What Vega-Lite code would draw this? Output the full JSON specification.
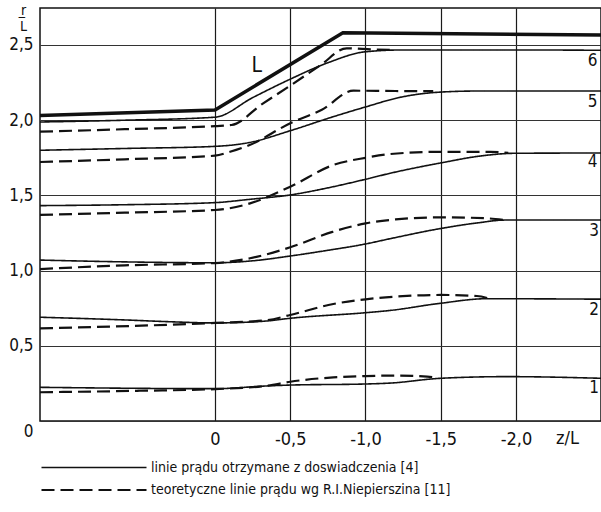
{
  "$schema": "https://vega.github.io/schema/vega-lite/v6.json",
  "width": 561,
  "height": 413,
  "autosize": "none",
  "padding": {"left": 40, "top": 8, "right": 0, "bottom": 91},
  "background": "white",
  "datasets": {
    "lines": [
      {"line": "s6", "kind": "linie prądu otrzymane z doswiadczenia [4]", "z": 1.163, "r": 1.988},
      {"line": "s6", "kind": "linie prądu otrzymane z doswiadczenia [4]", "z": 0.6, "r": 2.0},
      {"line": "s6", "kind": "linie prądu otrzymane z doswiadczenia [4]", "z": 0, "r": 2.02},
      {"line": "s6", "kind": "linie prądu otrzymane z doswiadczenia [4]", "z": -0.25, "r": 2.15},
      {"line": "s6", "kind": "linie prądu otrzymane z doswiadczenia [4]", "z": -0.5, "r": 2.273},
      {"line": "s6", "kind": "linie prądu otrzymane z doswiadczenia [4]", "z": -0.75, "r": 2.382},
      {"line": "s6", "kind": "linie prądu otrzymane z doswiadczenia [4]", "z": -1.0, "r": 2.455},
      {"line": "s6", "kind": "linie prądu otrzymane z doswiadczenia [4]", "z": -1.25, "r": 2.467},
      {"line": "s6", "kind": "linie prądu otrzymane z doswiadczenia [4]", "z": -2.0, "r": 2.467},
      {"line": "s6", "kind": "linie prądu otrzymane z doswiadczenia [4]", "z": -2.565, "r": 2.465},
      {"line": "d6", "kind": "teoretyczne linie prądu wg R.I.Niepierszina [11]", "z": 1.163, "r": 1.924},
      {"line": "d6", "kind": "teoretyczne linie prądu wg R.I.Niepierszina [11]", "z": 0.6, "r": 1.94},
      {"line": "d6", "kind": "teoretyczne linie prądu wg R.I.Niepierszina [11]", "z": 0, "r": 1.961},
      {"line": "d6", "kind": "teoretyczne linie prądu wg R.I.Niepierszina [11]", "z": -0.11, "r": 1.968},
      {"line": "d6", "kind": "teoretyczne linie prądu wg R.I.Niepierszina [11]", "z": -0.31, "r": 2.105},
      {"line": "d6", "kind": "teoretyczne linie prądu wg R.I.Niepierszina [11]", "z": -0.5, "r": 2.23},
      {"line": "d6", "kind": "teoretyczne linie prądu wg R.I.Niepierszina [11]", "z": -0.7, "r": 2.365},
      {"line": "d6", "kind": "teoretyczne linie prądu wg R.I.Niepierszina [11]", "z": -0.875, "r": 2.478},
      {"line": "d6", "kind": "teoretyczne linie prądu wg R.I.Niepierszina [11]", "z": -1.05, "r": 2.47},
      {"line": "d6", "kind": "teoretyczne linie prądu wg R.I.Niepierszina [11]", "z": -1.2, "r": 2.467},
      {"line": "s5", "kind": "linie prądu otrzymane z doswiadczenia [4]", "z": 1.163, "r": 1.8},
      {"line": "s5", "kind": "linie prądu otrzymane z doswiadczenia [4]", "z": 0.6, "r": 1.812},
      {"line": "s5", "kind": "linie prądu otrzymane z doswiadczenia [4]", "z": 0, "r": 1.826},
      {"line": "s5", "kind": "linie prądu otrzymane z doswiadczenia [4]", "z": -0.23, "r": 1.852},
      {"line": "s5", "kind": "linie prądu otrzymane z doswiadczenia [4]", "z": -0.5, "r": 1.93},
      {"line": "s5", "kind": "linie prądu otrzymane z doswiadczenia [4]", "z": -0.785, "r": 2.023},
      {"line": "s5", "kind": "linie prądu otrzymane z doswiadczenia [4]", "z": -1.0, "r": 2.088},
      {"line": "s5", "kind": "linie prądu otrzymane z doswiadczenia [4]", "z": -1.23, "r": 2.152},
      {"line": "s5", "kind": "linie prądu otrzymane z doswiadczenia [4]", "z": -1.5, "r": 2.187},
      {"line": "s5", "kind": "linie prądu otrzymane z doswiadczenia [4]", "z": -1.75, "r": 2.194},
      {"line": "s5", "kind": "linie prądu otrzymane z doswiadczenia [4]", "z": -2.565, "r": 2.194},
      {"line": "d5", "kind": "teoretyczne linie prądu wg R.I.Niepierszina [11]", "z": 1.163, "r": 1.722},
      {"line": "d5", "kind": "teoretyczne linie prądu wg R.I.Niepierszina [11]", "z": 0.6, "r": 1.74},
      {"line": "d5", "kind": "teoretyczne linie prądu wg R.I.Niepierszina [11]", "z": 0, "r": 1.764},
      {"line": "d5", "kind": "teoretyczne linie prądu wg R.I.Niepierszina [11]", "z": -0.1, "r": 1.79},
      {"line": "d5", "kind": "teoretyczne linie prądu wg R.I.Niepierszina [11]", "z": -0.23, "r": 1.835},
      {"line": "d5", "kind": "teoretyczne linie prądu wg R.I.Niepierszina [11]", "z": -0.5, "r": 1.98},
      {"line": "d5", "kind": "teoretyczne linie prądu wg R.I.Niepierszina [11]", "z": -0.71, "r": 2.07},
      {"line": "d5", "kind": "teoretyczne linie prądu wg R.I.Niepierszina [11]", "z": -0.92, "r": 2.196},
      {"line": "d5", "kind": "teoretyczne linie prądu wg R.I.Niepierszina [11]", "z": -1.2, "r": 2.194},
      {"line": "d5", "kind": "teoretyczne linie prądu wg R.I.Niepierszina [11]", "z": -1.45, "r": 2.193},
      {"line": "s4", "kind": "linie prądu otrzymane z doswiadczenia [4]", "z": 1.163, "r": 1.432},
      {"line": "s4", "kind": "linie prądu otrzymane z doswiadczenia [4]", "z": 0.6, "r": 1.438},
      {"line": "s4", "kind": "linie prądu otrzymane z doswiadczenia [4]", "z": 0, "r": 1.452},
      {"line": "s4", "kind": "linie prądu otrzymane z doswiadczenia [4]", "z": -0.233, "r": 1.474},
      {"line": "s4", "kind": "linie prądu otrzymane z doswiadczenia [4]", "z": -0.5, "r": 1.503},
      {"line": "s4", "kind": "linie prądu otrzymane z doswiadczenia [4]", "z": -0.75, "r": 1.55},
      {"line": "s4", "kind": "linie prądu otrzymane z doswiadczenia [4]", "z": -1.0, "r": 1.607},
      {"line": "s4", "kind": "linie prądu otrzymane z doswiadczenia [4]", "z": -1.163, "r": 1.647},
      {"line": "s4", "kind": "linie prądu otrzymane z doswiadczenia [4]", "z": -1.506, "r": 1.717},
      {"line": "s4", "kind": "linie prądu otrzymane z doswiadczenia [4]", "z": -1.75, "r": 1.76},
      {"line": "s4", "kind": "linie prądu otrzymane z doswiadczenia [4]", "z": -1.993, "r": 1.78},
      {"line": "s4", "kind": "linie prądu otrzymane z doswiadczenia [4]", "z": -2.565, "r": 1.782},
      {"line": "d4", "kind": "teoretyczne linie prądu wg R.I.Niepierszina [11]", "z": 1.163, "r": 1.37},
      {"line": "d4", "kind": "teoretyczne linie prądu wg R.I.Niepierszina [11]", "z": 0.6, "r": 1.385},
      {"line": "d4", "kind": "teoretyczne linie prądu wg R.I.Niepierszina [11]", "z": 0, "r": 1.403},
      {"line": "d4", "kind": "teoretyczne linie prądu wg R.I.Niepierszina [11]", "z": -0.233, "r": 1.447},
      {"line": "d4", "kind": "teoretyczne linie prądu wg R.I.Niepierszina [11]", "z": -0.5, "r": 1.558},
      {"line": "d4", "kind": "teoretyczne linie prądu wg R.I.Niepierszina [11]", "z": -0.786, "r": 1.702},
      {"line": "d4", "kind": "teoretyczne linie prądu wg R.I.Niepierszina [11]", "z": -1.0, "r": 1.75},
      {"line": "d4", "kind": "teoretyczne linie prądu wg R.I.Niepierszina [11]", "z": -1.163, "r": 1.775},
      {"line": "d4", "kind": "teoretyczne linie prądu wg R.I.Niepierszina [11]", "z": -1.5, "r": 1.79},
      {"line": "d4", "kind": "teoretyczne linie prądu wg R.I.Niepierszina [11]", "z": -1.83, "r": 1.79},
      {"line": "d4", "kind": "teoretyczne linie prądu wg R.I.Niepierszina [11]", "z": -1.95, "r": 1.782},
      {"line": "s3", "kind": "linie prądu otrzymane z doswiadczenia [4]", "z": 1.163, "r": 1.07},
      {"line": "s3", "kind": "linie prądu otrzymane z doswiadczenia [4]", "z": 0.6, "r": 1.058},
      {"line": "s3", "kind": "linie prądu otrzymane z doswiadczenia [4]", "z": 0, "r": 1.052},
      {"line": "s3", "kind": "linie prądu otrzymane z doswiadczenia [4]", "z": -0.25, "r": 1.065},
      {"line": "s3", "kind": "linie prądu otrzymane z doswiadczenia [4]", "z": -0.5, "r": 1.097},
      {"line": "s3", "kind": "linie prądu otrzymane z doswiadczenia [4]", "z": -0.75, "r": 1.135},
      {"line": "s3", "kind": "linie prądu otrzymane z doswiadczenia [4]", "z": -1.0, "r": 1.177},
      {"line": "s3", "kind": "linie prądu otrzymane z doswiadczenia [4]", "z": -1.163, "r": 1.212},
      {"line": "s3", "kind": "linie prądu otrzymane z doswiadczenia [4]", "z": -1.506, "r": 1.281},
      {"line": "s3", "kind": "linie prądu otrzymane z doswiadczenia [4]", "z": -1.75, "r": 1.318},
      {"line": "s3", "kind": "linie prądu otrzymane z doswiadczenia [4]", "z": -1.927, "r": 1.336},
      {"line": "s3", "kind": "linie prądu otrzymane z doswiadczenia [4]", "z": -2.565, "r": 1.336},
      {"line": "d3", "kind": "teoretyczne linie prądu wg R.I.Niepierszina [11]", "z": 1.163, "r": 1.01},
      {"line": "d3", "kind": "teoretyczne linie prądu wg R.I.Niepierszina [11]", "z": 0.6, "r": 1.035},
      {"line": "d3", "kind": "teoretyczne linie prądu wg R.I.Niepierszina [11]", "z": 0, "r": 1.05},
      {"line": "d3", "kind": "teoretyczne linie prądu wg R.I.Niepierszina [11]", "z": -0.233, "r": 1.082},
      {"line": "d3", "kind": "teoretyczne linie prądu wg R.I.Niepierszina [11]", "z": -0.5, "r": 1.155},
      {"line": "d3", "kind": "teoretyczne linie prądu wg R.I.Niepierszina [11]", "z": -0.786, "r": 1.259},
      {"line": "d3", "kind": "teoretyczne linie prądu wg R.I.Niepierszina [11]", "z": -1.0, "r": 1.314},
      {"line": "d3", "kind": "teoretyczne linie prądu wg R.I.Niepierszina [11]", "z": -1.2, "r": 1.34},
      {"line": "d3", "kind": "teoretyczne linie prądu wg R.I.Niepierszina [11]", "z": -1.5, "r": 1.354},
      {"line": "d3", "kind": "teoretyczne linie prądu wg R.I.Niepierszina [11]", "z": -1.8, "r": 1.348},
      {"line": "d3", "kind": "teoretyczne linie prądu wg R.I.Niepierszina [11]", "z": -1.92, "r": 1.337},
      {"line": "s2", "kind": "linie prądu otrzymane z doswiadczenia [4]", "z": 1.163, "r": 0.69},
      {"line": "s2", "kind": "linie prądu otrzymane z doswiadczenia [4]", "z": 0.6, "r": 0.672},
      {"line": "s2", "kind": "linie prądu otrzymane z doswiadczenia [4]", "z": 0.3, "r": 0.66},
      {"line": "s2", "kind": "linie prądu otrzymane z doswiadczenia [4]", "z": 0, "r": 0.652},
      {"line": "s2", "kind": "linie prądu otrzymane z doswiadczenia [4]", "z": -0.343, "r": 0.665},
      {"line": "s2", "kind": "linie prądu otrzymane z doswiadczenia [4]", "z": -0.5, "r": 0.683},
      {"line": "s2", "kind": "linie prądu otrzymane z doswiadczenia [4]", "z": -1.0, "r": 0.72},
      {"line": "s2", "kind": "linie prądu otrzymane z doswiadczenia [4]", "z": -1.163, "r": 0.735},
      {"line": "s2", "kind": "linie prądu otrzymane z doswiadczenia [4]", "z": -1.5, "r": 0.783},
      {"line": "s2", "kind": "linie prądu otrzymane z doswiadczenia [4]", "z": -1.805, "r": 0.813},
      {"line": "s2", "kind": "linie prądu otrzymane z doswiadczenia [4]", "z": -2.565, "r": 0.81},
      {"line": "d2", "kind": "teoretyczne linie prądu wg R.I.Niepierszina [11]", "z": 1.163, "r": 0.616},
      {"line": "d2", "kind": "teoretyczne linie prądu wg R.I.Niepierszina [11]", "z": 0.55, "r": 0.632},
      {"line": "d2", "kind": "teoretyczne linie prądu wg R.I.Niepierszina [11]", "z": 0, "r": 0.652},
      {"line": "d2", "kind": "teoretyczne linie prądu wg R.I.Niepierszina [11]", "z": -0.343, "r": 0.67},
      {"line": "d2", "kind": "teoretyczne linie prądu wg R.I.Niepierszina [11]", "z": -0.5, "r": 0.705},
      {"line": "d2", "kind": "teoretyczne linie prądu wg R.I.Niepierszina [11]", "z": -0.786, "r": 0.778},
      {"line": "d2", "kind": "teoretyczne linie prądu wg R.I.Niepierszina [11]", "z": -1.0, "r": 0.809},
      {"line": "d2", "kind": "teoretyczne linie prądu wg R.I.Niepierszina [11]", "z": -1.2, "r": 0.827},
      {"line": "d2", "kind": "teoretyczne linie prądu wg R.I.Niepierszina [11]", "z": -1.5, "r": 0.838},
      {"line": "d2", "kind": "teoretyczne linie prądu wg R.I.Niepierszina [11]", "z": -1.74, "r": 0.831},
      {"line": "d2", "kind": "teoretyczne linie prądu wg R.I.Niepierszina [11]", "z": -1.82, "r": 0.815},
      {"line": "s1", "kind": "linie prądu otrzymane z doswiadczenia [4]", "z": 1.163, "r": 0.224},
      {"line": "s1", "kind": "linie prądu otrzymane z doswiadczenia [4]", "z": 0, "r": 0.215},
      {"line": "s1", "kind": "linie prądu otrzymane z doswiadczenia [4]", "z": -0.343, "r": 0.233},
      {"line": "s1", "kind": "linie prądu otrzymane z doswiadczenia [4]", "z": -0.5, "r": 0.239},
      {"line": "s1", "kind": "linie prądu otrzymane z doswiadczenia [4]", "z": -1.0, "r": 0.246},
      {"line": "s1", "kind": "linie prądu otrzymane z doswiadczenia [4]", "z": -1.163, "r": 0.252},
      {"line": "s1", "kind": "linie prądu otrzymane z doswiadczenia [4]", "z": -1.5, "r": 0.284},
      {"line": "s1", "kind": "linie prądu otrzymane z doswiadczenia [4]", "z": -1.94, "r": 0.295},
      {"line": "s1", "kind": "linie prądu otrzymane z doswiadczenia [4]", "z": -2.565, "r": 0.284},
      {"line": "d1", "kind": "teoretyczne linie prądu wg R.I.Niepierszina [11]", "z": 1.163, "r": 0.191},
      {"line": "d1", "kind": "teoretyczne linie prądu wg R.I.Niepierszina [11]", "z": 0.5, "r": 0.201},
      {"line": "d1", "kind": "teoretyczne linie prądu wg R.I.Niepierszina [11]", "z": 0, "r": 0.212},
      {"line": "d1", "kind": "teoretyczne linie prądu wg R.I.Niepierszina [11]", "z": -0.35, "r": 0.235},
      {"line": "d1", "kind": "teoretyczne linie prądu wg R.I.Niepierszina [11]", "z": -0.5, "r": 0.261},
      {"line": "d1", "kind": "teoretyczne linie prądu wg R.I.Niepierszina [11]", "z": -0.786, "r": 0.29},
      {"line": "d1", "kind": "teoretyczne linie prądu wg R.I.Niepierszina [11]", "z": -1.0, "r": 0.299},
      {"line": "d1", "kind": "teoretyczne linie prądu wg R.I.Niepierszina [11]", "z": -1.23, "r": 0.302},
      {"line": "d1", "kind": "teoretyczne linie prądu wg R.I.Niepierszina [11]", "z": -1.41, "r": 0.295},
      {"line": "d1", "kind": "teoretyczne linie prądu wg R.I.Niepierszina [11]", "z": -1.48, "r": 0.286}
    ],
    "wall": [
      {"z": 1.163, "r": 2.032},
      {"z": 0, "r": 2.068},
      {"z": -0.85, "r": 2.582},
      {"z": -2.565, "r": 2.566}
    ],
    "labels": [
      {"t": "6", "z": -2.51, "r": 2.394, "s": 17},
      {"t": "5", "z": -2.51, "r": 2.118, "s": 17},
      {"t": "4", "z": -2.51, "r": 1.719, "s": 17},
      {"t": "3", "z": -2.52, "r": 1.263, "s": 17},
      {"t": "2", "z": -2.52, "r": 0.738, "s": 17},
      {"t": "1", "z": -2.52, "r": 0.22, "s": 17},
      {"t": "L", "z": -0.277, "r": 2.362, "s": 21}
    ]
  },
  "layer": [
    {
      "data": {"name": "lines"},
      "mark": {"type": "line", "interpolate": "monotone", "color": "#111", "clip": true},
      "encoding": {
        "x": {
          "field": "z", "type": "quantitative",
          "scale": {"domain": [-2.565, 1.163], "reverse": true, "nice": false, "zero": false},
          "axis": {
            "values": [0, -0.5, -1, -1.5, -2],
            "labelExpr": "datum.value == 0 ? '0' : '-' + replace(format(-datum.value, '.1f'), '.', ',')",
            "title": "z/L", "titleX": 527, "titleY": 17, "titleAlign": "center", "titleBaseline": "middle",
            "titleFontWeight": "normal", "titleFontSize": 18,
            "domain": false, "ticks": false, "labelPadding": 9, "labelFontSize": 18,
            "grid": true, "gridColor": "#1a1a1a", "gridWidth": 1.2
          }
        },
        "y": {
          "field": "r", "type": "quantitative",
          "scale": {"domain": [0, 2.746], "nice": false, "zero": false},
          "axis": {
            "values": [0, 0.5, 1, 1.5, 2, 2.5],
            "labelExpr": "datum.value == 0 ? '0' : replace(format(datum.value, '.1f'), '.', ',')",
            "labelOffset": {"condition": {"test": "datum.value == 0", "value": 10}, "value": 0},
            "title": ["r", "L\u0305"], "titleX": -17, "titleY": -5, "titleAngle": 0, "titleAlign": "center",
            "titleBaseline": "top", "titleLineHeight": 16, "titleFontSize": 14, "titleFontWeight": "normal",
            "domain": false, "ticks": false, "labelPadding": 7, "labelFontSize": 17,
            "grid": true, "gridColor": "#333", "gridWidth": 1
          }
        },
        "detail": {"field": "line"},
        "strokeDash": {
          "field": "kind", "type": "nominal",
          "scale": {
            "domain": ["linie prądu otrzymane z doswiadczenia [4]", "teoretyczne linie prądu wg R.I.Niepierszina [11]"],
            "range": [[1, 0], [13, 6]]
          },
          "legend": {
            "orient": "none", "legendX": 42, "legendY": 448, "title": null,
            "symbolType": "M-5,0H5", "symbolSize": 441, "symbolStrokeWidth": 1.6, "symbolStrokeColor": "#111",
            "labelFontSize": 14, "labelOffset": 45, "rowPadding": 3, "labelLimit": 500
          }
        },
        "strokeWidth": {
          "field": "kind", "type": "nominal",
          "scale": {
            "domain": ["linie prądu otrzymane z doswiadczenia [4]", "teoretyczne linie prądu wg R.I.Niepierszina [11]"],
            "range": [1.6, 2.2]
          },
          "legend": null
        }
      }
    },
    {
      "data": {"name": "wall"},
      "mark": {"type": "line", "color": "#111", "strokeWidth": 3.5, "clip": true},
      "encoding": {
        "x": {"field": "z", "type": "quantitative"},
        "y": {"field": "r", "type": "quantitative"}
      }
    },
    {
      "data": {"name": "labels"},
      "mark": {"type": "text", "color": "#111", "align": "center", "baseline": "middle"},
      "encoding": {
        "x": {"field": "z", "type": "quantitative"},
        "y": {"field": "r", "type": "quantitative"},
        "text": {"field": "t"},
        "size": {"field": "s", "type": "quantitative", "scale": null}
      }
    }
  ],
  "config": {
    "view": {"stroke": "#111", "strokeWidth": 1.5},
    "font": "DejaVu Sans Condensed, sans-serif",
    "axis": {"labelColor": "#111", "titleColor": "#111", "labelFont": "DejaVu Sans Condensed, sans-serif", "titleFont": "DejaVu Sans Condensed, sans-serif"},
    "legend": {"labelColor": "#111", "labelFont": "DejaVu Sans Condensed, sans-serif"},
    "text": {"font": "DejaVu Sans Condensed, sans-serif"}
  }
}
